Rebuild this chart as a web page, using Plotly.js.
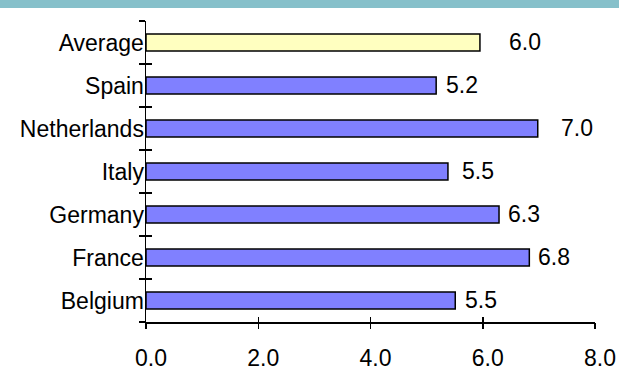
<!DOCTYPE html>
<html>
<head>
<meta charset="utf-8">
<script src="https://cdn.plot.ly/plotly-3.0.1.min.js"></script>
<style>
  html, body { margin: 0; padding: 0; background: #fff; }
  #wrap { position: relative; width: 619px; height: 385px; overflow: hidden; }
  #chart { position: absolute; left: 0; top: 0; width: 619px; height: 385px; }
  #band { position: absolute; left: 0; top: 0; width: 619px; height: 8px; background: #86C0CA; z-index: 5; }
</style>
</head>
<body>
<div id="wrap">
  <div id="chart"></div>
  <div id="band"></div>
</div>
<script>
// Data (bottom to top)
var categories = ['Belgium', 'France', 'Germany', 'Italy', 'Netherlands', 'Spain', 'Average'];
var values = [5.51, 6.83, 6.29, 5.38, 6.98, 5.17, 5.95];
var valueLabels = ['5.5', '6.8', '6.3', '5.5', '7.0', '5.2', '6.0'];
var xTickValues = [0, 2, 4, 6, 8];
var xTickLabels = ['0.0', '2.0', '4.0', '6.0', '8.0'];

var BLUE = '#8080FF', YELLOW = '#FFFFC0';
var barColors = categories.map(function (c) { return c === 'Average' ? YELLOW : BLUE; });
// label offsets (px) from bar end, as seen in the reference
var labelGap = {Belgium: 8, France: 7, Germany: 7, Italy: 12, Netherlands: 21, Spain: 8, Average: 27};

var FONT = 'Liberation Sans, Arial, sans-serif';

var main = {
  type: 'bar', orientation: 'h',
  y: categories, x: values,
  marker: { color: barColors, line: { color: '#000', width: 1.5 } },
  hoverinfo: 'x+y'
};
var ghost = {
  type: 'bar', orientation: 'h',
  y: categories, x: values,
  xaxis: 'x2', yaxis: 'y2',
  marker: { color: 'rgba(0,0,0,0)', line: { width: 0 } },
  hoverinfo: 'skip', showlegend: false
};

var annotations = categories.map(function (c, i) {
  return {
    x: values[i], y: c, xref: 'x', yref: 'y',
    text: valueLabels[i], showarrow: false,
    xanchor: 'left', yanchor: 'middle',
    xshift: labelGap[c], yshift: 1,
    font: { family: FONT, size: 23, color: '#000' }
  };
});

var layout = {
  width: 619, height: 385,
  margin: { l: 146, r: 24, t: 21, b: 63, pad: 0 },
  paper_bgcolor: '#fff', plot_bgcolor: '#fff',
  showlegend: false,
  bargap: 0.6,
  font: { family: FONT, size: 23, color: '#000' },
  xaxis: {
    range: [0, 8], tickvals: xTickValues, ticktext: xTickLabels,
    ticks: 'inside', ticklen: 5, tickwidth: 1.5, tickcolor: '#000',
    showline: true, linewidth: 1.5, linecolor: '#000',
    showgrid: false, zeroline: false, fixedrange: true,
    tickfont: { family: FONT, size: 23, color: '#000' },
    ticklabelstandoff: 15, ticklabelshift: 5
  },
  yaxis: {
    type: 'category', categoryorder: 'array', categoryarray: categories,
    range: [-0.5, 6.5], tickson: 'boundaries',
    ticks: 'inside', ticklen: 6, tickwidth: 1.5, tickcolor: '#000',
    showline: true, linewidth: 1.5, linecolor: '#000',
    showgrid: false, zeroline: false, fixedrange: true,
    tickfont: { family: FONT, size: 23, color: '#000' },
    ticklabelstandoff: -4
  },
  xaxis2: {
    overlaying: 'x', anchor: 'y2', side: 'bottom',
    range: [0, 8], tickvals: xTickValues,
    ticks: 'outside', ticklen: 6, tickwidth: 1.5, tickcolor: '#000',
    showticklabels: false, showline: false, showgrid: false, zeroline: false, fixedrange: true
  },
  yaxis2: {
    overlaying: 'y', anchor: 'x2', side: 'left',
    type: 'category', categoryorder: 'array', categoryarray: categories,
    range: [-0.5, 6.5], tickson: 'boundaries',
    ticks: 'outside', ticklen: 6, tickwidth: 1.5, tickcolor: '#000',
    showticklabels: false, showline: false, showgrid: false, zeroline: false, fixedrange: true
  },
  annotations: annotations
};

Plotly.newPlot('chart', [main, ghost], layout, { displayModeBar: false, staticPlot: true });
</script>
</body>
</html>
